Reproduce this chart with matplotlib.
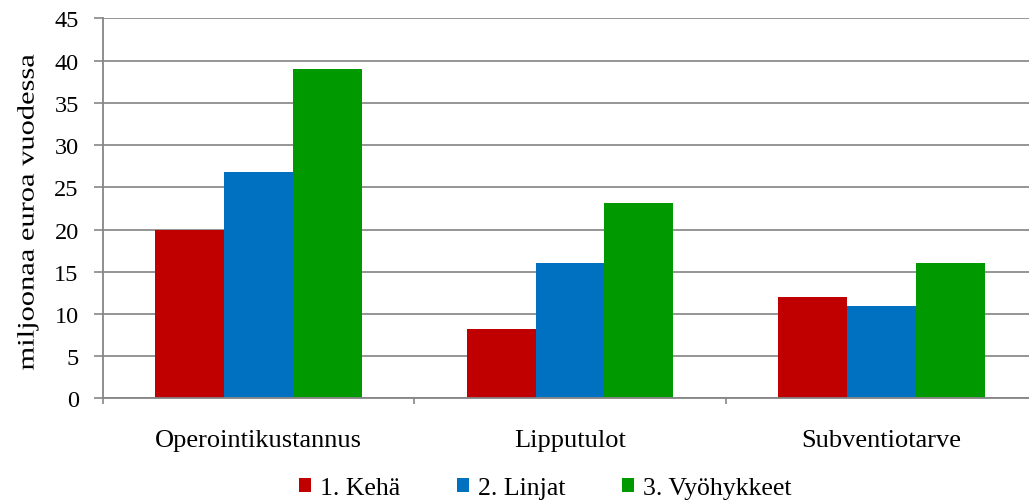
import matplotlib
matplotlib.use("Agg")
import matplotlib.pyplot as plt
import matplotlib.patheffects as pe
from matplotlib.transforms import Affine2D
import numpy as np

categories = ["Operointikustannus", "Lipputulot", "Subventiotarve"]
series_names = ["1. Kehä", "2. Linjat", "3. Vyöhykkeet"]
kehä = [20.0, 8.2, 12.0]
linjat = [26.8, 16.0, 11.0]
vyohykkeet = [39.0, 23.1, 16.0]
colors = ["#c00000", "#0070c0", "#009900"]
yticks = [0, 5, 10, 15, 20, 25, 30, 35, 40, 45]


class Stretch(pe.AbstractPathEffect):
    """Widen text along its baseline (imitates the wide spacing of the original)."""
    def __init__(self, sx, anchor="center"):
        super().__init__()
        self.sx = sx
        self.anchor = anchor

    def draw_path(self, renderer, gc, tpath, affine, rgbFace=None):
        ext = tpath.get_extents()
        if self.anchor == "left":
            cx = ext.x0
        elif self.anchor == "right":
            cx = ext.x1
        else:
            cx = 0.5 * (ext.x0 + ext.x1)
        t = Affine2D().translate(-cx, 0).scale(self.sx, 1).translate(cx, 0) + affine
        renderer.draw_path(gc, tpath, t, rgbFace)


plt.rcParams['font.family'] = ['Liberation Serif', 'DejaVu Serif']

fig = plt.figure(figsize=(10.29, 5.02), dpi=100)
ax = fig.add_axes([0.1001, 0.2042, 0.9077, 0.7574])

x = np.arange(len(categories))
w = 0.221
for i, (vals, name, c) in enumerate(zip([kehä, linjat, vyohykkeet], series_names, colors)):
    ax.bar(x + (i - 1) * w, vals, w, color=c, label=name, zorder=3)

ax.set_xlim(-0.5, len(categories) - 0.5)
ax.set_ylim(0, 45)
ax.set_yticks(yticks)
ax.set_xticks(x)
ax.set_xticklabels(categories, fontsize=19)
ax.set_xticks(np.arange(-0.5, len(categories), 1.0), minor=True)
ax.tick_params(axis='x', which='major', length=0, pad=22)
ax.tick_params(axis='x', which='minor', length=4, width=1.2, color='#868686', direction='out')
ax.tick_params(axis='y', length=6.5, width=1.2, color='#868686', labelsize=17.5, pad=11)
ax.grid(axis='y', color='#8c8c8c', linewidth=1.3, zorder=0)
for s in ['top', 'right']:
    ax.spines[s].set_visible(False)
for s in ['left', 'bottom']:
    ax.spines[s].set_color('#868686')
    ax.spines[s].set_linewidth(1.3)
    ax.spines[s].set_zorder(4)

yl = ax.set_ylabel("miljoonaa euroa vuodessa", fontsize=17)
ax.yaxis.set_label_coords(-0.069, 0.49)
yl.set_path_effects([Stretch(1.29, "center")])

leg = fig.legend(loc='center', bbox_to_anchor=(0.530, 0.026), ncol=3, frameon=False,
                 fontsize=18.5, handlelength=0.47, handleheight=0.47, handletextpad=0.35,
                 columnspacing=2.2, borderpad=0.2)

fig.savefig("out.png", dpi=100)
